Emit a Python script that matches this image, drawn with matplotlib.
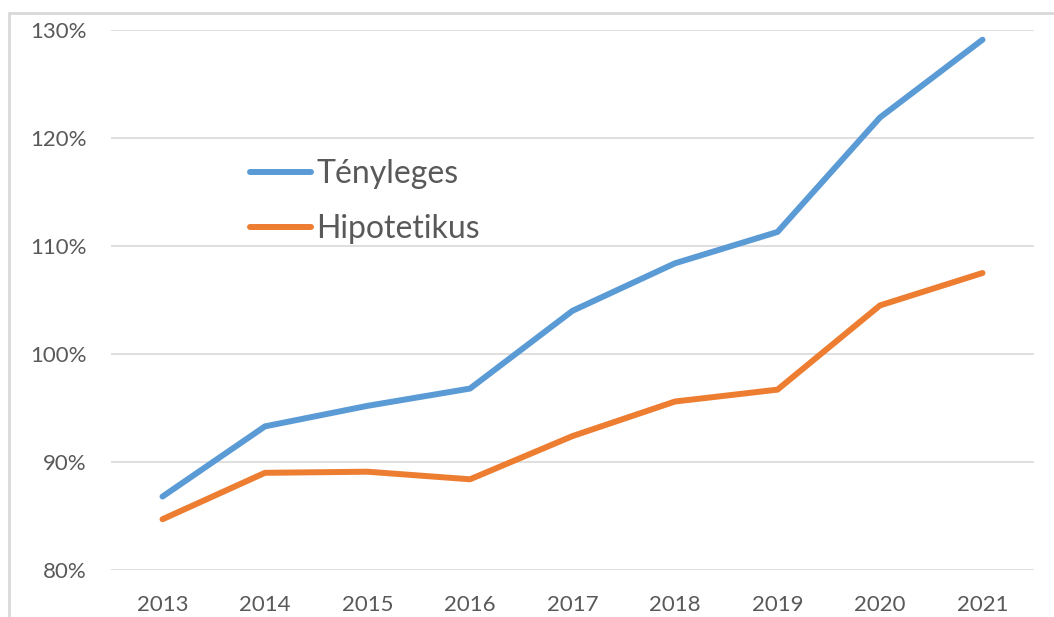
import matplotlib
matplotlib.use("Agg")
import matplotlib.pyplot as plt
from matplotlib.patches import Rectangle

years = ["2013", "2014", "2015", "2016", "2017", "2018", "2019", "2020", "2021"]
tenyleges = [86.8, 93.3, 95.2, 96.8, 104.0, 108.4, 111.3, 121.9, 129.1]
hipotetikus = [84.7, 89.0, 89.1, 88.4, 92.4, 95.6, 96.7, 104.5, 107.5]
yticks = [80, 90, 100, 110, 120, 130]
ytick_labels = ["80%", "90%", "100%", "110%", "120%", "130%"]

W, H = 1054, 617
fig = plt.figure(figsize=(W / 100, H / 100), dpi=100)
plt.rcParams['font.family'] = ['Lato', 'DejaVu Sans']

# outer chart frame (cropped on right/bottom)
fig.patches.append(Rectangle((9 / W, -0.1), 1.2, 1 - 13 / H + 0.1, transform=fig.transFigure,
                             fill=False, edgecolor='#D9D9D9', linewidth=2))

left, right = 111.25, 1033.75
top, bottom = 30, 570
ax = fig.add_axes([left / W, (H - bottom) / H, (right - left) / W, (bottom - top) / H])
ax.set_facecolor('none')

x = list(range(len(years)))
ax.plot(x, tenyleges, color='#5B9BD5', linewidth=4.3, solid_capstyle='round',
        solid_joinstyle='round', label='Tényleges', zorder=3)
ax.plot(x, hipotetikus, color='#ED7D31', linewidth=4.3, solid_capstyle='round',
        solid_joinstyle='round', label='Hipotetikus', zorder=3)

ax.set_xlim(-0.5, len(years) - 0.5)
ax.set_ylim(80, 130)
ax.set_yticks(yticks)
ax.set_yticklabels(ytick_labels)
ax.set_xticks(x)
ax.set_xticklabels(years)
ax.grid(axis='y', color='#D9D9D9', linewidth=1.2, zorder=0)
ax.set_axisbelow(True)
for s in ax.spines.values():
    s.set_visible(False)
ax.tick_params(axis='both', length=0, labelsize=16, colors='#595959')
ax.tick_params(axis='y', pad=18)
ax.tick_params(axis='x', pad=18)

leg = ax.legend(loc='upper left', bbox_to_anchor=(250 / W, (H - 159) / H),
                bbox_transform=fig.transFigure, frameon=False, fontsize=23,
                handlelength=1.9, handletextpad=0.17, labelspacing=0.79,
                borderaxespad=0, borderpad=0)
for t in leg.get_texts():
    t.set_color('#595959')

fig.savefig('out.png', dpi=100)
